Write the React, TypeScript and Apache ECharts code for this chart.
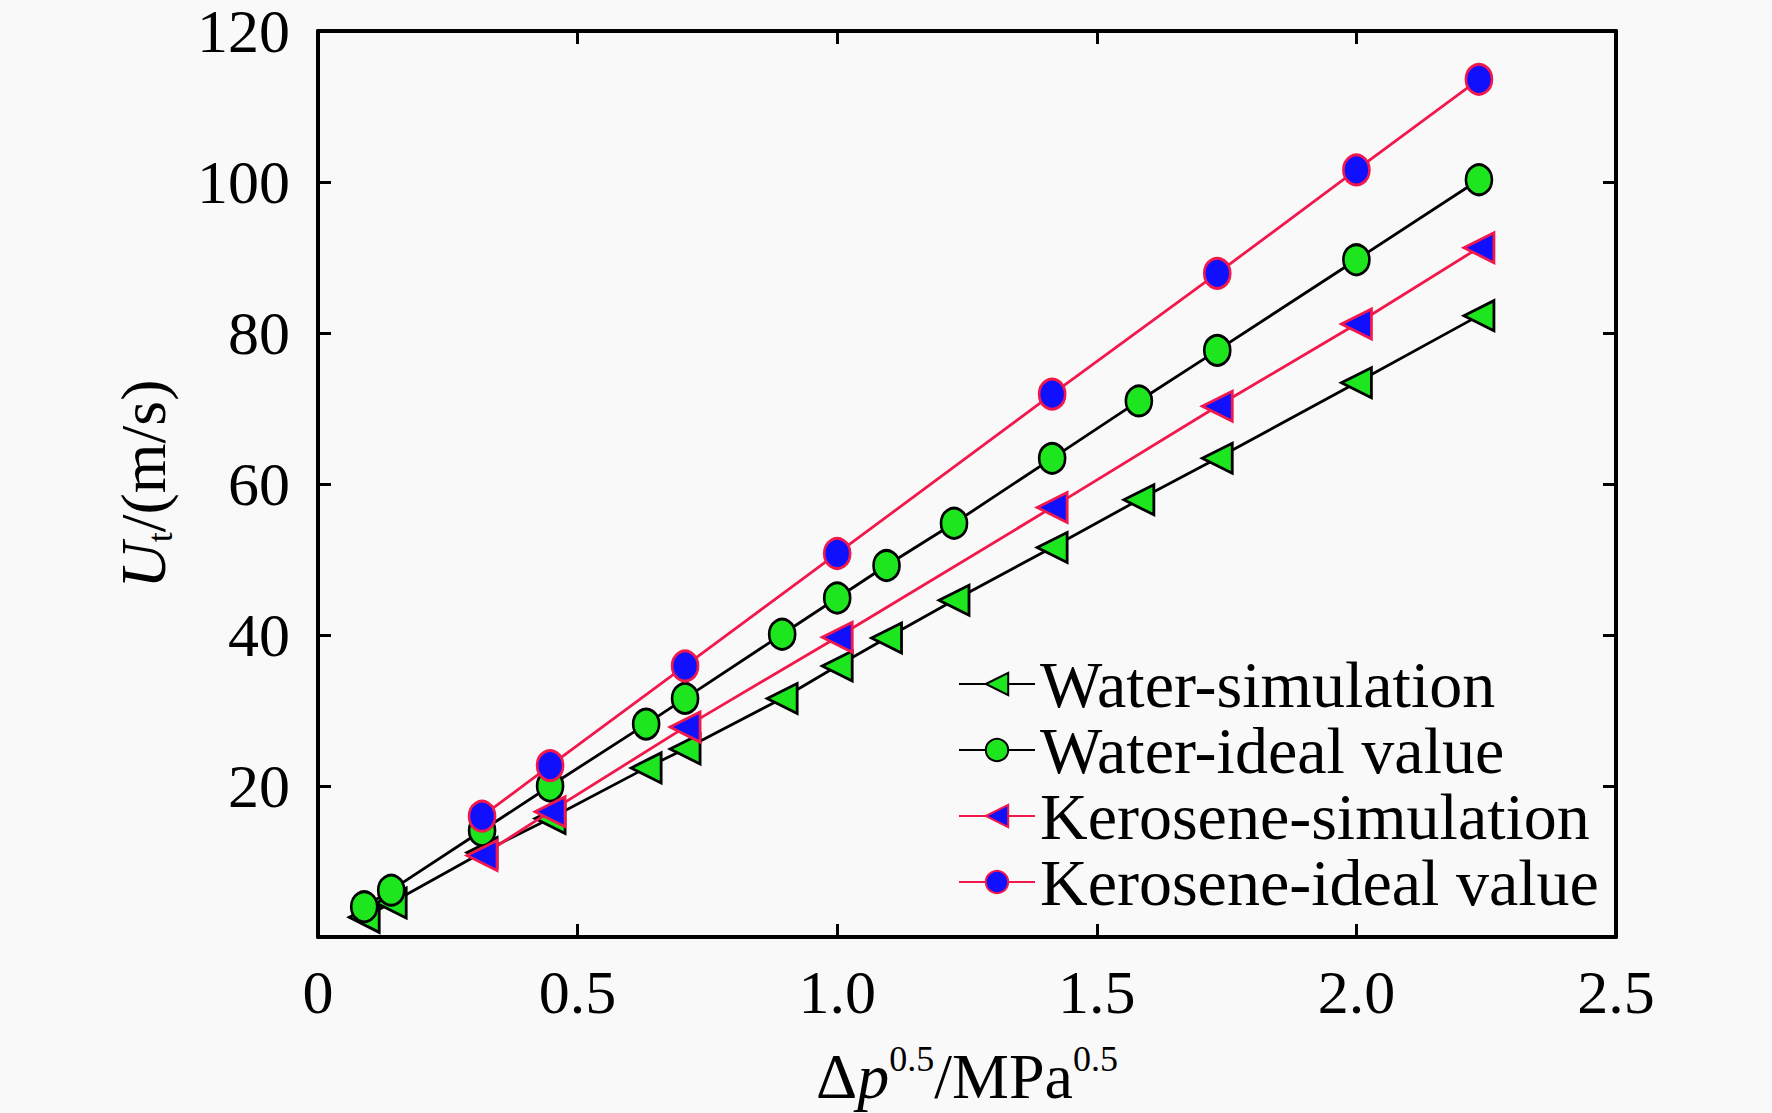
import { useEffect, useRef } from 'react';
import * as echarts from 'echarts';

const xWater = [0.089, 0.141, 0.316, 0.447, 0.632, 0.707, 0.894, 1.0, 1.095, 1.225, 1.414, 1.581, 1.732, 2.0, 2.236];
const waterSim = [2.6, 4.5, 11.2, 15.7, 22.4, 24.9, 31.6, 35.9, 39.6, 44.6, 51.6, 57.9, 63.4, 73.4, 82.3];
const waterIdeal = [4.0, 6.2, 14.1, 20.0, 28.2, 31.6, 40.1, 44.9, 49.2, 54.8, 63.4, 71.0, 77.7, 89.7, 100.3];

const xKerosene = [0.316, 0.447, 0.707, 1.0, 1.414, 1.732, 2.0, 2.236];
const keroseneSim = [10.8, 16.6, 27.8, 39.7, 56.9, 70.3, 81.2, 91.3];
const keroseneIdeal = [16.0, 22.7, 35.9, 50.8, 71.9, 87.9, 101.6, 113.6];

const seriesNames = ['Water-simulation', 'Water-ideal value', 'Kerosene-simulation', 'Kerosene-ideal value'];

const FONT = "'Liberation Serif', 'Times New Roman', serif";
const GREEN = '#1ee61e';
const BLUE = '#1010ff';
const RED = '#f2184c';

const pairs = (xs: number[], ys: number[]) => xs.map((x, i) => [x, ys[i]]);

export default function App() {
  const ref = useRef<HTMLDivElement | null>(null);

  useEffect(() => {
    document.body.style.margin = '0';
    if (!ref.current) {
      return;
    }
    const chart = echarts.init(ref.current, undefined, { renderer: 'svg' });

    const axisLine = { onZero: false, lineStyle: { color: '#000', width: 4 } };
    const tick = { inside: true, length: 13, lineStyle: { color: '#000', width: 3 } };

    chart.setOption({
      animation: false,
      backgroundColor: '#f9f9f9',
      grid: { left: 318, right: 156, top: 25, bottom: 175 },
      legend: {
        orient: 'vertical',
        left: 953,
        top: 646,
        itemWidth: 76,
        itemHeight: 28,
        itemGap: 0,
        data: seriesNames,
        textStyle: { fontFamily: FONT, fontSize: 66, color: '#000', lineHeight: 65 }
      },
      xAxis: [
        {
          type: 'value',
          min: 0,
          max: 2.5,
          interval: 0.5,
          position: 'bottom',
          axisLine,
          axisTick: tick,
          splitLine: { show: false },
          axisLabel: {
            margin: 30,
            fontFamily: FONT,
            fontSize: 62,
            lineHeight: 50,
            color: '#000',
            formatter: (v: number) => (v === 0 ? '0' : v.toFixed(1))
          },
          name: '{d|Δ}{i|p}{sup|0.5}{n|/MPa}{sup|0.5}',
          nameLocation: 'middle',
          nameGap: 104,
          nameTextStyle: {
            fontFamily: FONT,
            color: '#000',
            rich: {
              d: { fontFamily: FONT, fontSize: 64, lineHeight: 70, color: '#000' },
              i: { fontFamily: FONT, fontSize: 64, lineHeight: 70, fontStyle: 'italic', color: '#000' },
              n: { fontFamily: FONT, fontSize: 64, lineHeight: 70, color: '#000' },
              sup: { fontFamily: FONT, fontSize: 36, lineHeight: 22, verticalAlign: 'top', color: '#000' }
            }
          }
        },
        {
          type: 'value',
          min: 0,
          max: 2.5,
          interval: 0.5,
          position: 'top',
          axisLine,
          axisTick: tick,
          axisLabel: { show: false },
          splitLine: { show: false }
        }
      ],
      yAxis: [
        {
          type: 'value',
          min: 0,
          max: 120,
          interval: 20,
          position: 'left',
          axisLine,
          axisTick: tick,
          splitLine: { show: false },
          axisLabel: {
            margin: 28,
            fontFamily: FONT,
            fontSize: 62,
            lineHeight: 50,
            color: '#000',
            formatter: (v: number) => (v === 0 ? '' : String(v))
          },
          name: '{i|U}{sub|t}{n|/(m/s)}',
          nameLocation: 'middle',
          nameGap: 140,
          nameTextStyle: {
            fontFamily: FONT,
            color: '#000',
            rich: {
              i: { fontFamily: FONT, fontSize: 64, lineHeight: 70, fontStyle: 'italic', color: '#000' },
              n: { fontFamily: FONT, fontSize: 64, lineHeight: 70, color: '#000' },
              sub: { fontFamily: FONT, fontSize: 36, lineHeight: 20, verticalAlign: 'bottom', color: '#000' }
            }
          }
        },
        {
          type: 'value',
          min: 0,
          max: 120,
          interval: 20,
          position: 'right',
          axisLine,
          axisTick: tick,
          axisLabel: { show: false },
          splitLine: { show: false }
        }
      ],
      series: [
        {
          name: seriesNames[0],
          type: 'line',
          data: pairs(xWater, waterSim),
          symbol: 'triangle',
          symbolRotate: 90,
          symbolSize: 30,
          lineStyle: { color: '#000', width: 2.8 },
          itemStyle: { color: GREEN, borderColor: '#000', borderWidth: 2.8 },
          z: 2
        },
        {
          name: seriesNames[1],
          type: 'line',
          data: pairs(xWater, waterIdeal),
          symbol: 'circle',
          symbolSize: [26, 30],
          lineStyle: { color: '#000', width: 2.8 },
          itemStyle: { color: GREEN, borderColor: '#000', borderWidth: 2.8 },
          z: 3
        },
        {
          name: seriesNames[2],
          type: 'line',
          data: pairs(xKerosene, keroseneSim),
          symbol: 'triangle',
          symbolRotate: 90,
          symbolSize: 30,
          lineStyle: { color: RED, width: 2.8 },
          itemStyle: { color: BLUE, borderColor: RED, borderWidth: 2.8 },
          z: 4
        },
        {
          name: seriesNames[3],
          type: 'line',
          data: pairs(xKerosene, keroseneIdeal),
          symbol: 'circle',
          symbolSize: [26, 30],
          lineStyle: { color: RED, width: 2.8 },
          itemStyle: { color: BLUE, borderColor: RED, borderWidth: 2.8 },
          z: 5
        }
      ]
    });

    return () => {
      chart.dispose();
    };
  }, []);

  return <div ref={ref} style={{ width: 1772, height: 1113 }} />;
}
